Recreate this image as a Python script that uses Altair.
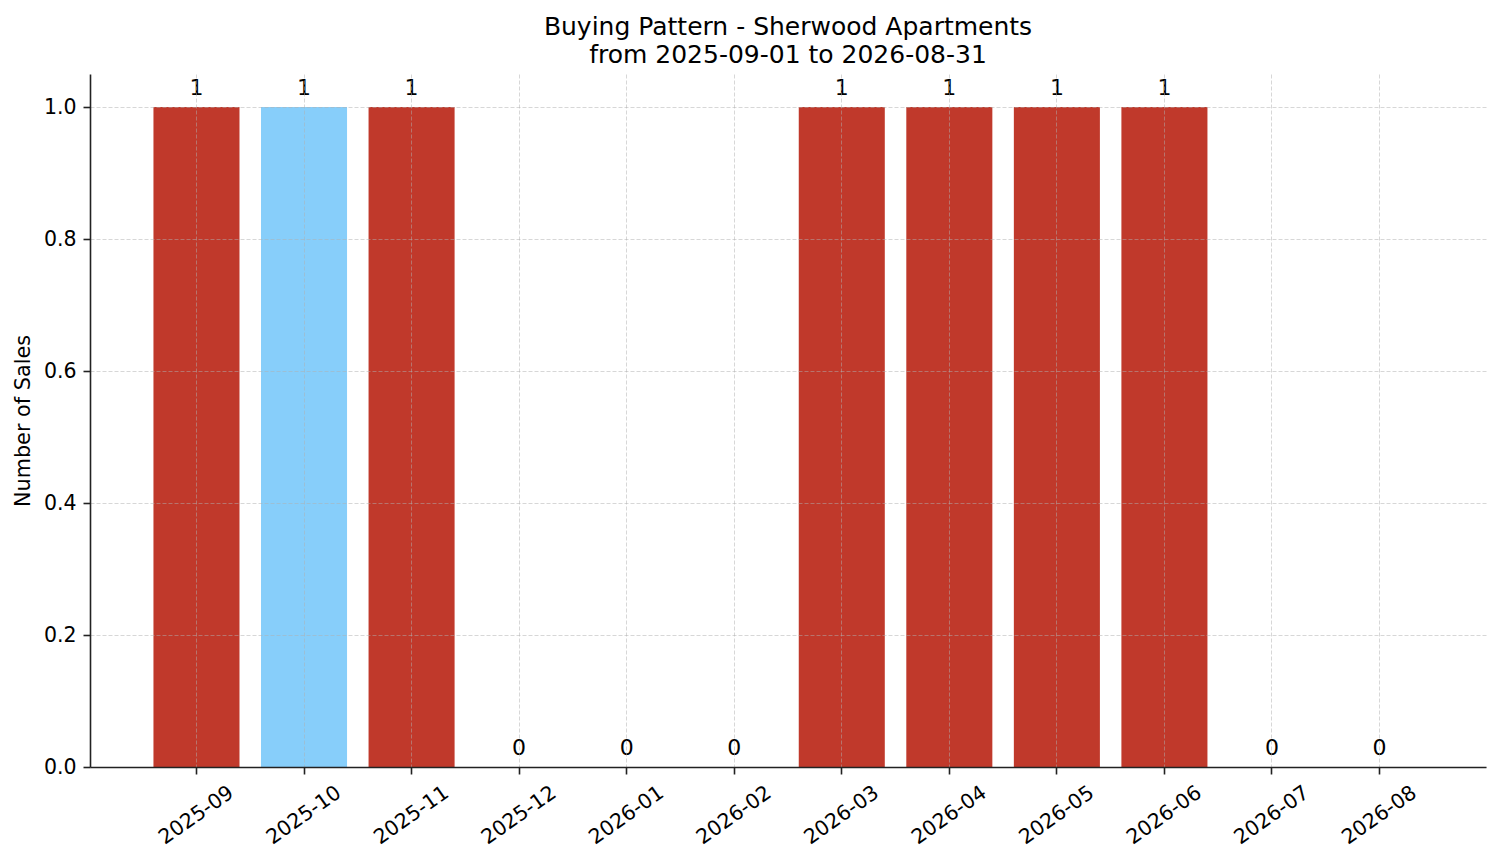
import altair as alt
import pandas as pd

# monthly sales counts for the period
months = [
    "2025-09", "2025-10", "2025-11", "2025-12", "2026-01", "2026-02",
    "2026-03", "2026-04", "2026-05", "2026-06", "2026-07", "2026-08",
]
sales = [1, 1, 1, 0, 0, 0, 1, 1, 1, 1, 0, 0]
# one month is highlighted
kind = ["other", "selected", "other", "other", "other", "other",
        "other", "other", "other", "other", "other", "other"]

df = pd.DataFrame({"month": months, "sales": sales, "kind": kind})

FONT = "DejaVu Sans"
grid_style = dict(
    grid=True,
    gridColor="#b0b0b0",
    gridOpacity=0.5,
    gridDash=[4, 2],
    gridWidth=1,
    domainColor="#222222",
    domainWidth=1.6,
    tickColor="#222222",
    tickWidth=1.6,
    tickSize=7,
    labelFont=FONT,
    labelFontSize=20.5,
    labelColor="black",
    titleFont=FONT,
    titleFontSize=20.8,
    titleFontWeight="normal",
    titleColor="black",
    zindex=1,
)

x = alt.X(
    "month:N",
    sort=months,
    scale=alt.Scale(paddingInner=0.2, paddingOuter=0.59),
    axis=alt.Axis(
        title=None,
        labelAngle=-35,
        labelAlign="center",
        labelBaseline="middle",
        labelPadding=41,
        bandPosition=0.5,
        **grid_style,
    ),
)
y = alt.Y(
    "sales:Q",
    scale=alt.Scale(domain=[0, 1.05], nice=False),
    axis=alt.Axis(
        title="Number of Sales",
        values=[0, 0.2, 0.4, 0.6, 0.8, 1.0],
        format=".1f",
        labelPadding=7,
        titlePadding=10,
        **grid_style,
    ),
)

bars = (
    alt.Chart(df)
    .mark_bar()
    .encode(
        x=x,
        y=y,
        color=alt.Color(
            "kind:N",
            scale=alt.Scale(domain=["other", "selected"], range=["#c0392b", "#87cefa"]),
            legend=None,
        ),
    )
)

labels = (
    alt.Chart(df)
    .mark_text(font=FONT, fontSize=22, color="black", baseline="alphabetic", dy=-12)
    .encode(x=alt.X("month:N", sort=months), y="sales:Q", text="sales:Q")
)

chart = (
    (bars + labels)
    .properties(
        width=1396,
        height=693,
        autosize=alt.AutoSizeParams(type="none"),
        padding={"left": 82, "top": 66, "right": 7, "bottom": 90},
        title=alt.TitleParams(
            ["Buying Pattern - Sherwood Apartments", "from 2025-09-01 to 2026-08-31"],
            font=FONT,
            fontSize=25,
            fontWeight="normal",
            color="black",
            anchor="middle",
            offset=6,
            lineHeight=28,
        ),
    )
    .configure_view(stroke=None)
)

chart.save("out.html", embed_options={"renderer": "svg", "actions": False})
